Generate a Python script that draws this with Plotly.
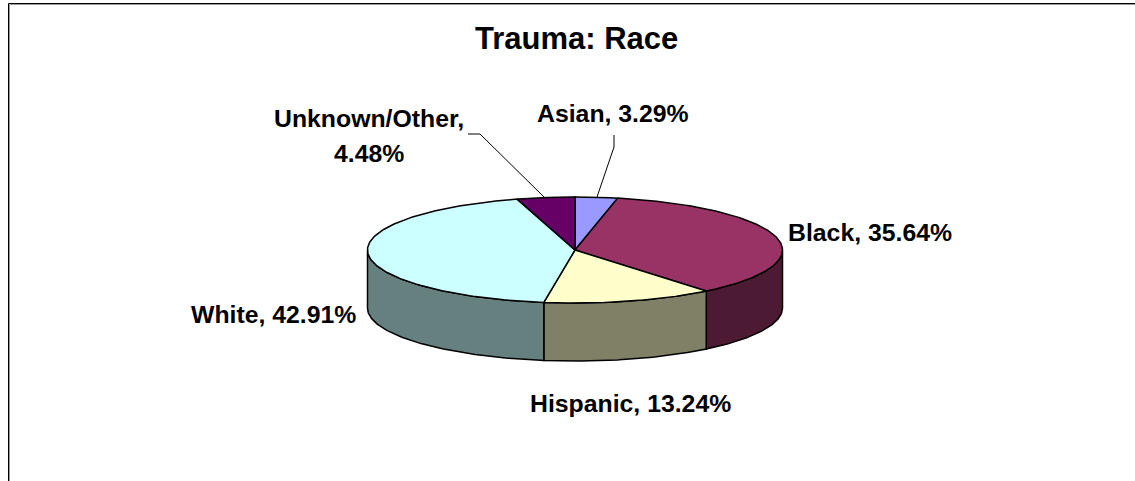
import numpy as np
import plotly.graph_objects as go

categories = ["Asian", "Black", "Hispanic", "White", "Unknown/Other"]
values = [3.29, 35.64, 13.24, 42.91, 4.48]
top_colors = ["#9999FF", "#993366", "#FFFFCC", "#CCFFFF", "#660066"]
side_colors = ["#666699", "#4D1A33", "#808066", "#668080", "#330033"]
label_texts = ["Asian, 3.29%", "Black, 35.64%", "Hispanic, 13.24%", "White, 42.91%", "Unknown/Other,", "4.48%"]
label_x = [612.5, 869.5, 630.5, 273.5, 368.5, 368.5]
label_y = [113, 232, 403, 314, 118, 153]
W, H = 1135, 481
CX, CY, RX, RY, DEPTH = 575, 250, 207.5, 53, 58

fig = go.Figure()
def pt(a, dy=0):
    return CX + RX * np.sin(a), CY - RY * np.cos(a) + dy
def add(x, y, color):
    fig.add_trace(go.Scatter(x=list(x), y=list(y), mode="lines", fill="toself", fillcolor=color,
                             line=dict(color="black", width=1.5), hoverinfo="skip", showlegend=False))

edges = 2 * np.pi * np.concatenate([[0], np.cumsum(values)]) / sum(values)
# visible sides: lower half of the ellipse
for i in range(len(values)):
    a0, a1 = max(edges[i], np.pi / 2), min(edges[i + 1], 3 * np.pi / 2)
    if a1 > a0:
        t = np.linspace(a0, a1, 90)
        xs, ys = pt(t)
        xb, yb = pt(t[::-1], DEPTH)
        add(np.r_[xs, xb, xs[0]], np.r_[ys, yb, ys[0]], side_colors[i])
# top faces
for i in range(len(values)):
    t = np.linspace(edges[i], edges[i + 1], 150)
    xs, ys = pt(t)
    add(np.r_[CX, xs, CX], np.r_[CY, ys, CY], top_colors[i])

# leader lines
def leader(xs, ys):
    fig.add_trace(go.Scatter(x=xs, y=ys, mode="lines", line=dict(color="black", width=1),
                             hoverinfo="skip", showlegend=False))
leader([597, 614, 614], [197, 147, 135])
leader([544, 480, 468], [197, 134, 134])

for t, x, y in zip(label_texts, label_x, label_y):
    fig.add_annotation(x=x, y=y, text="<b>" + t + "</b>", showarrow=False, xanchor="center", yanchor="middle",
                       font=dict(family="Liberation Sans", size=24.8, color="black"))
fig.add_annotation(x=576, y=38, text="<b>Trauma: Race</b>", showarrow=False, xanchor="center", yanchor="middle",
                   font=dict(family="Liberation Sans", size=31, color="black"))

# chart frame: black line with a grey shadow, open on the right and bottom
for off, col in [(1, "#999999"), (0, "black")]:
    fig.add_shape(type="line", x0=8.5 + off, x1=8.5 + off, y0=3.5 + off, y1=481, line=dict(color=col, width=1))
    fig.add_shape(type="line", x0=8.5 + off, x1=1135, y0=3.5 + off, y1=3.5 + off, line=dict(color=col, width=1))

fig.update_layout(width=W, height=H, margin=dict(l=0, r=0, t=0, b=0), paper_bgcolor="white", plot_bgcolor="white",
                  xaxis=dict(visible=False, range=[0, W], fixedrange=True),
                  yaxis=dict(visible=False, range=[H, 0], fixedrange=True), showlegend=False)
fig.write_html("out.html", config=dict(displayModeBar=False),
               post_script="document.body.style.margin='0';document.body.style.overflow='hidden';")
